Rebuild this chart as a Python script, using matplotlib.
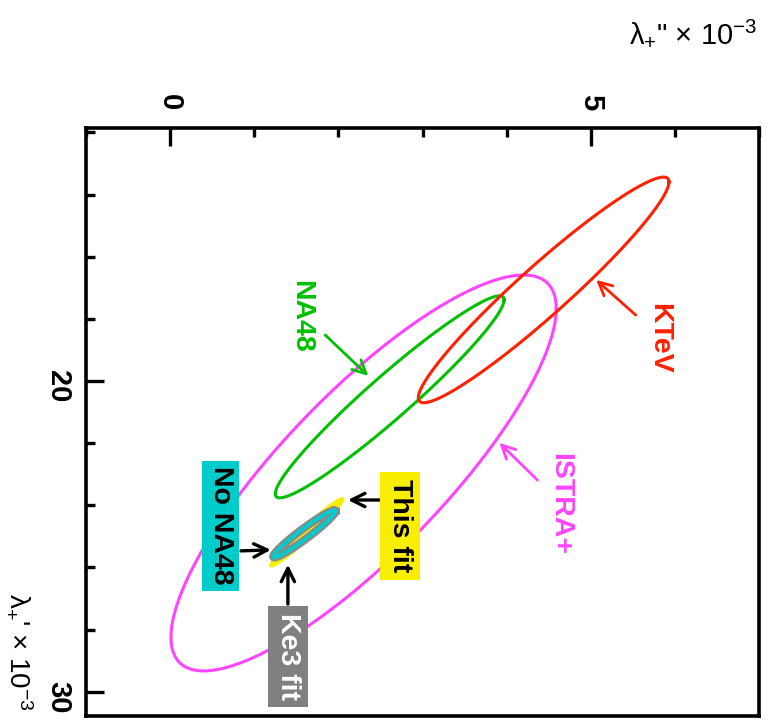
import matplotlib
matplotlib.use("Agg")
import matplotlib.pyplot as plt
import numpy as np
from matplotlib.ticker import MultipleLocator

plt.rcParams['font.family'] = ['Liberation Sans', 'DejaVu Sans']
plt.rcParams['mathtext.fontset'] = 'custom'
plt.rcParams['mathtext.rm'] = 'Liberation Sans'
plt.rcParams['mathtext.it'] = 'Liberation Sans'

# 1 sigma contours: centre (lambda'', lambda'), sigma'', sigma', correlation
names = ["ISTRA+", "NA48", "KTeV"]
cen_pp = [2.30, 2.61, 4.44]      # lambda+'' x 1e-3
cen_p = [22.96, 20.51, 17.07]    # lambda+' x 1e-3
sig_pp = [2.29, 1.36, 1.49]
sig_p = [6.37, 3.25, 3.63]
rho = [-0.83, -0.96, -0.956]
colors = ["#ff44ff", "#00c000", "#ff2000"]

# the small fit contours
fit_cen_pp = [1.625, 1.595]
fit_cen_p = [24.87, 24.92]
fit_sig_pp = [0.435, 0.369]
fit_sig_p = [1.10, 0.756]
fit_rho = [-0.972, -0.965]

t = np.linspace(0, 2 * np.pi, 300)


def contour(cx, cy, sx, sy, r):
    x = cx + sx * np.cos(t)
    y = cy + sy * (r * np.cos(t) + np.sqrt(1 - r ** 2) * np.sin(t))
    return x, y


fig = plt.figure(figsize=(7.68, 7.2), dpi=100)
ax = fig.add_axes([86 / 768, 1 - 716 / 720, (759 - 86) / 768, (716 - 128) / 720])

for i in range(len(names)):
    x, y = contour(cen_pp[i], cen_p[i], sig_pp[i], sig_p[i], rho[i])
    ax.plot(x, y, color=colors[i], lw=2.2, zorder=2 + i)

# This fit (yellow), Ke3 fit (gray) and No NA48 (cyan)
x, y = contour(fit_cen_pp[0], fit_cen_p[0], fit_sig_pp[0], fit_sig_p[0], fit_rho[0])
ax.fill(x, y, color="#f8ee00", lw=1.5, zorder=6)
x, y = contour(fit_cen_pp[1], fit_cen_p[1], fit_sig_pp[1], fit_sig_p[1], fit_rho[1])
ax.plot(x, y, color="#8a8a8a", lw=6.0, zorder=7)
ax.plot(x, y, color="#00cccc", lw=2.8, zorder=8)

ax.set_xlim(-1, 7)
ax.set_ylim(30.78, 11.86)

ax.xaxis.set_major_locator(MultipleLocator(5))
ax.xaxis.set_minor_locator(MultipleLocator(1))
ax.yaxis.set_major_locator(MultipleLocator(10))
ax.yaxis.set_minor_locator(MultipleLocator(2))
ax.tick_params(axis='x', which='both', direction='in', top=True, bottom=False,
               labeltop=True, labelbottom=False, width=2.4)
ax.tick_params(axis='y', which='both', direction='in', left=True, right=False, width=2.4)
ax.tick_params(which='major', length=13)
ax.tick_params(which='minor', length=6.5)
ax.tick_params(axis='x', which='major', pad=13)
ax.tick_params(axis='y', which='major', pad=10)
for lab in ax.get_xticklabels() + ax.get_yticklabels():
    lab.set_rotation(-90)
    lab.set_fontsize(21)
    lab.set_fontweight('bold')
for s in ax.spines.values():
    s.set_linewidth(2.6)

txt = dict(rotation=-90, fontsize=20.5, fontweight='bold', ha='center', va='center', zorder=10)

# labels with arrows
ax.annotate("KTeV", xy=(5.04, 16.69), xytext=(5.81, 18.62), color=colors[2], **txt)
ax.annotate("", xy=(5.04, 16.69), xytext=(5.56, 17.94),
            arrowprops=dict(arrowstyle="->", color=colors[2], lw=2, mutation_scale=24))
ax.annotate("NA48", xy=(2.38, 19.90), xytext=(1.56, 17.91), color=colors[1], **txt)
ax.annotate("", xy=(2.38, 19.90), xytext=(1.82, 18.46),
            arrowprops=dict(arrowstyle="->", color=colors[1], lw=2, mutation_scale=24))
ax.annotate("ISTRA+", xy=(3.89, 21.93), xytext=(4.64, 23.95), color=colors[0], **txt)
ax.annotate("", xy=(3.89, 21.93), xytext=(4.39, 23.25),
            arrowprops=dict(arrowstyle="->", color=colors[0], lw=2, mutation_scale=24))

ax.text(2.73, 24.66, "This fit", color="black",
        bbox=dict(boxstyle="square,pad=0.25", fc="#f8ee00", ec="none"), **txt)
ax.annotate("", xy=(2.08, 23.83), xytext=(2.52, 23.83), zorder=9,
            arrowprops=dict(arrowstyle="->", color="black", lw=2.4, mutation_scale=24))
ax.text(0.60, 24.66, "No NA48", color="black",
        bbox=dict(boxstyle="square,pad=0.2", fc="#00cccc", ec="none"), **txt)
ax.annotate("", xy=(1.23, 25.43), xytext=(0.81, 25.47), zorder=9,
            arrowprops=dict(arrowstyle="->", color="black", lw=2.4, mutation_scale=24))
ax.text(1.40, 28.87, "Ke3 fit", color="white",
        bbox=dict(boxstyle="square,pad=0.25", fc="#808080", ec="none"), **txt)
ax.annotate("", xy=(1.40, 25.82), xytext=(1.40, 27.27), zorder=9,
            arrowprops=dict(arrowstyle="->", color="black", lw=2.4, mutation_scale=24))

# axis titles
fig.text(757 / 768, 1 - 33 / 720, "λ$_{+}$\" × 10$^{-3}$", fontsize=21,
         ha='right', va='center')
fig.text(19 / 768, 1 - 652 / 720, "λ$_{+}$' × 10$^{-3}$", fontsize=20,
         rotation=-90, ha='center', va='center')

fig.savefig("out.png", dpi=100)
